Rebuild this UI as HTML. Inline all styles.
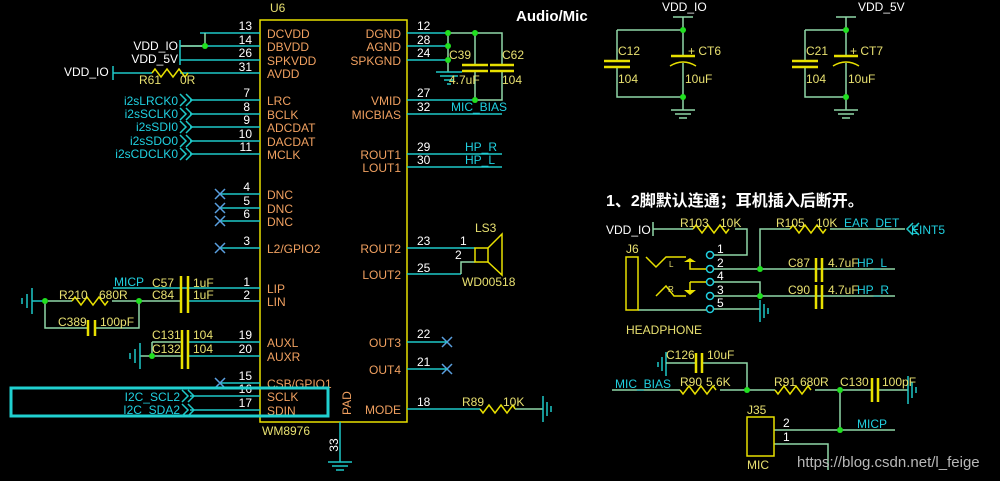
<!DOCTYPE html>
<html><head><meta charset="utf-8"><style>
html,body{margin:0;padding:0;background:#000;}
svg{display:block;}
text{font-family:"Liberation Sans","Noto Sans CJK SC",sans-serif;font-size:12px;}
.w{stroke:#1ec8c8;stroke-width:1.5;fill:none}
.g{stroke:#90d8a8;stroke-width:1.5;fill:none}
.y{stroke:#e8e000;stroke-width:1.5;fill:none}
.yw{stroke:#e8e000;stroke-width:2.5;fill:none}
.o{fill:#f0a060}
.n{fill:#ffffff}
.c{fill:#20d0e0}
.yt{fill:#e8e070}
.d{fill:#20e020}
.x{stroke:#5aa0e0;stroke-width:1.5}
</style></head><body>
<svg width="1000" height="481" viewBox="0 0 1000 481" xmlns="http://www.w3.org/2000/svg">
<rect width="1000" height="481" fill="#000"/>
<rect x="260" y="20" width="147" height="402" class="y"/>
<text x="270" y="12" class="yt">U6</text>
<text x="262" y="435" class="yt">WM8976</text>
<text x="351" y="415" class="o" transform="rotate(-90 351 415)">PAD</text>
<g class="w">
<path d="M200 33H260M180 46H260M180 60H260M180 73H260"/>
<path d="M190 100H260M190 114H260M190 127H260M190 141H260M190 154H260"/>
<path d="M220 194H260M220 208H260M220 221H260M220 248H260"/>
<path d="M113 288H260M188 301H260M188 342H260M188 356H260M220 383H260M190 396H260M190 410H260"/>
</g>
<g class="g"><path d="M205 33V46H180M48 301H72M112 301H181M45 301V328H88M95 328H139V301M152 342V356H181M140 356H152M152 342H181"/></g>
<circle cx="205" cy="46" r="3" class="d"/>
<text x="178" y="50" class="n" text-anchor="end">VDD_IO</text>
<text x="178" y="63" class="n" text-anchor="end">VDD_5V</text>
<line x1="180" y1="40" x2="180" y2="65" class="w"/>
<text x="64" y="76" class="n">VDD_IO</text>
<line x1="113" y1="66" x2="113" y2="80" class="w"/>
<path d="M113 73H152" class="w"/>
<path d="M152 73l3 -4 6 8 6 -8 6 8 6 -8 6 8 3 -4" class="y"/>
<text x="139" y="84" class="yt">R61</text><text x="180" y="84" class="yt">0R</text>
<g class="c" text-anchor="end">
<text x="178" y="105">i2sLRCK0</text><text x="178" y="118">i2sSCLK0</text><text x="178" y="131">i2sSDI0</text><text x="178" y="145">i2sSDO0</text><text x="178" y="158">i2sCDCLK0</text>
</g>
<g class="w"><path d="M180 94l6 6-6 6M186 94l6 6-6 6M180 108l6 6-6 6M186 108l6 6-6 6M180 121l6 6-6 6M186 121l6 6-6 6M180 135l6 6-6 6M186 135l6 6-6 6M180 148l6 6-6 6M186 148l6 6-6 6"/></g>
<g class="x"><path d="M215 189l10 10M225 189l-10 10M215 203l10 10M225 203l-10 10M215 216l10 10M225 216l-10 10M215 243l10 10M225 243l-10 10M215 378l10 10M225 378l-10 10M442 337l10 10M452 337l-10 10M442 364l10 10M452 364l-10 10"/></g>
<g class="n" text-anchor="end">
<text x="252" y="30">13</text><text x="252" y="44">14</text><text x="252" y="57">26</text><text x="252" y="71">31</text>
<text x="250" y="97">7</text><text x="250" y="111">8</text><text x="250" y="124">9</text><text x="252" y="138">10</text><text x="252" y="151">11</text>
<text x="250" y="191">4</text><text x="250" y="205">5</text><text x="250" y="218">6</text><text x="250" y="245">3</text>
<text x="250" y="286">1</text><text x="250" y="299">2</text><text x="252" y="339">19</text><text x="252" y="353">20</text>
<text x="252" y="380">15</text><text x="252" y="393">16</text><text x="252" y="407">17</text>
</g>
<g class="o">
<text x="267" y="38">DCVDD</text><text x="267" y="51">DBVDD</text><text x="267" y="65">SPKVDD</text><text x="267" y="78">AVDD</text>
<text x="267" y="105">LRC</text><text x="267" y="119">BCLK</text><text x="267" y="132">ADCDAT</text><text x="267" y="146">DACDAT</text><text x="267" y="159">MCLK</text>
<text x="267" y="199">DNC</text><text x="267" y="213">DNC</text><text x="267" y="226">DNC</text><text x="267" y="253">L2/GPIO2</text>
<text x="267" y="293">LIP</text><text x="267" y="306">LIN</text><text x="267" y="347">AUXL</text><text x="267" y="361">AUXR</text>
<text x="267" y="388">CSB/GPIO1</text><text x="267" y="401">SCLK</text><text x="267" y="415">SDIN</text>
</g>
<g class="o" text-anchor="end">
<text x="401" y="38">DGND</text><text x="401" y="51">AGND</text><text x="401" y="65">SPKGND</text>
<text x="401" y="105">VMID</text><text x="401" y="119">MICBIAS</text><text x="401" y="159">ROUT1</text><text x="401" y="172">LOUT1</text>
<text x="401" y="253">ROUT2</text><text x="401" y="279">LOUT2</text><text x="401" y="347">OUT3</text><text x="401" y="374">OUT4</text><text x="401" y="414">MODE</text>
</g>
<g class="n">
<text x="417" y="30">12</text><text x="417" y="44">28</text><text x="417" y="57">24</text><text x="417" y="97">27</text><text x="417" y="111">32</text>
<text x="417" y="151">29</text><text x="417" y="164">30</text><text x="417" y="245">23</text><text x="417" y="272">25</text>
<text x="417" y="338">22</text><text x="417" y="366">21</text><text x="417" y="406">18</text>
</g>
<g class="w"><path d="M407 33H448M407 46H448M407 60H448M407 100H475M407 114H502M407 154H502M407 167H502M407 248H475M407 274H461M407 342H447M407 369H447M407 409H480"/></g>
<g class="g"><path d="M448 33H502V64M502 70V100H475M448 33V72M475 33V64M475 70V100M461 274V262H475M515 409H543"/></g>
<g class="w"><path d="M436 72H462M440 76H458M444 80H454M447 84H451"/></g>
<path d="M462 65H488M462 71H488M490 65H514M490 71H514" class="yw"/>
<circle cx="448" cy="33" r="3" class="d"/><circle cx="475" cy="33" r="3" class="d"/><circle cx="448" cy="46" r="3" class="d"/><circle cx="448" cy="60" r="3" class="d"/><circle cx="475" cy="100" r="3" class="d"/>
<text x="449" y="59" class="yt">C39</text><text x="502" y="59" class="yt">C62</text><text x="449" y="84" class="yt">4.7uF</text><text x="502" y="84" class="yt">104</text>
<text x="451" y="111" class="c">MIC_BIAS</text><text x="465" y="151" class="c">HP_R</text><text x="465" y="164" class="c">HP_L</text>
<text x="516" y="21" fill="#fff" style="font-weight:bold;font-size:15px">Audio/Mic</text>
<rect x="475" y="248" width="13" height="14" class="y"/>
<path d="M488 248L502 234V275L488 262" class="y"/>
<text x="475" y="232" class="yt">LS3</text><text x="462" y="286" class="yt">WD00518</text>
<text x="460" y="245" class="n">1</text><text x="455" y="259" class="n">2</text>
<path d="M480 409l3 4 6 -8 6 8 6 -8 6 8 6 -8 2 4" class="y"/>
<text x="462" y="406" class="yt">R89</text><text x="503" y="406" class="yt">10K</text>
<path d="M543 396V422M547 402V416M551 406V412" class="w" stroke-width="2"/>
<path d="M340 422V462M328 462H352M332 466H348M336 470H344" class="w"/>
<text x="338" y="445" class="n" transform="rotate(-90 338 445)" text-anchor="middle">33</text>
<text x="114" y="286" class="c">MICP</text>
<path d="M181 276V313M188 276V313M182 330V369M188 330V369M88 320V336M95 320V336" class="yw"/>
<text x="152" y="287" class="yt">C57</text><text x="193" y="287" class="yt">1uF</text>
<text x="152" y="299" class="yt">C84</text><text x="193" y="299" class="yt">1uF</text>
<path d="M72 301l3 -4 6 8 6 -8 6 8 6 -8 6 8 3 -4" class="y"/>
<text x="59" y="299" class="yt">R210</text><text x="99" y="299" class="yt">680R</text>
<text x="58" y="326" class="yt">C389</text><text x="100" y="326" class="yt">100pF</text>
<path d="M32 288V314M27 294V308M22 298V304M32 301H45" class="w" stroke-width="2"/>
<circle cx="45" cy="301" r="3" class="d"/><circle cx="139" cy="301" r="3" class="d"/>
<text x="152" y="339" class="yt">C131</text><text x="193" y="339" class="yt">104</text>
<text x="152" y="353" class="yt">C132</text><text x="193" y="353" class="yt">104</text>
<path d="M140 343V369M135 349V363M130 353V359" class="w" stroke-width="2"/>
<circle cx="152" cy="356" r="3" class="d"/>
<rect x="11" y="388" width="317" height="28" fill="none" stroke="#20d0d0" stroke-width="3"/>
<text x="180" y="401" class="c" text-anchor="end">I2C_SCL2</text><text x="180" y="414" class="c" text-anchor="end">I2C_SDA2</text>
<g class="w"><path d="M182 390l6 6-6 6M188 390l6 6-6 6M182 404l6 6-6 6M188 404l6 6-6 6"/></g>
<g>
<text x="662" y="11" class="n">VDD_IO</text>
<path d="M673 17H693M683 17V57M683 63V110M617 30H683M617 30V61M617 67V97H683M671 110H695M675 114H691M679 118H687" class="g"/>
<path d="M604 61H630M604 67H630M671 56H695" class="yw"/><path d="M670 66Q683 58 696 66" class="y" stroke-width="2"/>
<circle cx="683" cy="30" r="3" class="d"/><circle cx="683" cy="97" r="3" class="d"/>
<text x="618" y="55" class="yt">C12</text><text x="618" y="83" class="yt">104</text><text x="688" y="55" class="yt">+ CT6</text><text x="685" y="83" class="yt">10uF</text>
<text x="858" y="11" class="n">VDD_5V</text>
<path d="M836 17H856M846 17V57M846 63V110M805 30H846M805 30V61M805 67V97H846M834 110H858M838 114H854M842 118H850" class="g"/>
<path d="M792 61H818M792 67H818M834 56H858" class="yw"/><path d="M833 66Q846 58 859 66" class="y" stroke-width="2"/>
<circle cx="846" cy="30" r="3" class="d"/><circle cx="846" cy="97" r="3" class="d"/>
<text x="806" y="55" class="yt">C21</text><text x="806" y="83" class="yt">104</text><text x="850" y="55" class="yt">+ CT7</text><text x="848" y="83" class="yt">10uF</text>
</g>
<text x="606" y="206" fill="#fff" style="font-weight:bold;font-size:16px">1、2脚默认连通；耳机插入后断开。</text>
<text x="606" y="234" class="n">VDD_IO</text>
<path d="M653 222V236M653 229H693M735 229H747V255H714M714 269H895M760 269V229H790M830 229H905M714 282H760V296M714 296H895M714 309H760M638 310H706" class="g"/>
<path d="M693 229l3 -4 6 8 6 -8 6 8 6 -8 6 8 3 -4M790 229l3 -4 6 8 6 -8 6 8 6 -8 6 8 3 -4" class="y"/>
<text x="680" y="227" class="yt">R103</text><text x="720" y="227" class="yt">10K</text>
<text x="776" y="227" class="yt">R105</text><text x="816" y="227" class="yt">10K</text><text x="844" y="227" class="c">EAR_DET</text>
<path d="M913 223l-6 6 6 6M919 223l-6 6 6 6" class="w"/><text x="911" y="234" class="c">EINT5</text>
<g fill="none" stroke="#20d0e0" stroke-width="1.5"><circle cx="710" cy="255" r="3.5"/><circle cx="710" cy="269" r="3.5"/><circle cx="710" cy="282" r="3.5"/><circle cx="710" cy="296" r="3.5"/><circle cx="710" cy="309" r="3.5"/></g>
<g class="n"><text x="717" y="253">1</text><text x="717" y="267">2</text><text x="717" y="280">4</text><text x="717" y="294">3</text><text x="717" y="307">5</text></g>
<rect x="626" y="257" width="12" height="53" class="y"/><text x="626" y="253" class="yt">J6</text>
<path d="M646 257l10 10 10 -10h20M690 260V269H706M656 296l10 -10 8 10h12M690 282V290M690 282H706" class="y"/>
<path d="M684 262h12l-6 -4zM684 290h12l-6 5z" fill="#e8e000"/>
<text x="669" y="267" class="yt" style="font-size:8px">L</text><text x="668" y="292" class="yt" style="font-size:8px">R</text>
<path d="M760 300V322M764 304V318M768 308V314" class="w" stroke-width="2"/>
<circle cx="760" cy="269" r="3" class="d"/><circle cx="760" cy="296" r="3" class="d"/>
<path d="M816 258V282M822 258V282M816 285V309M822 285V309" class="yw"/>
<text x="788" y="267" class="yt">C87</text><text x="828" y="267" class="yt">4.7uF</text><text x="857" y="267" class="c">HP_L</text>
<text x="788" y="294" class="yt">C90</text><text x="828" y="294" class="yt">4.7uF</text><text x="857" y="294" class="c">HP_R</text>
<text x="626" y="334" class="yt">HEADPHONE</text>
<path d="M666 352V376M662 357V371M658 362V367" class="w" stroke-width="2"/>
<path d="M666 363H696M702 363H747V390M612 390H680M720 390H775M815 390H872M878 390H908M840 390V430M774 430H895M774 444H828V470" class="g"/>
<path d="M696 353V373M702 353V373M872 378V402M878 378V402" class="yw"/>
<path d="M680 390l3 4 6 -8 6 8 6 -8 6 8 6 -8 3 4M775 390l3 4 6 -8 6 8 6 -8 6 8 6 -8 3 4" class="y"/>
<path d="M908 376V404M912 382V398M916 387V393" class="w" stroke-width="2"/>
<circle cx="747" cy="390" r="3" class="d"/><circle cx="840" cy="390" r="3" class="d"/><circle cx="840" cy="430" r="3" class="d"/>
<g class="yt" style="font-size:9px"><text x="666" y="359">C126</text><text x="707" y="359">10uF</text><text x="680" y="386">R90</text><text x="706" y="386">5.6K</text><text x="774" y="386">R91</text><text x="800" y="386">680R</text><text x="840" y="386">C130</text><text x="882" y="386">100pF</text></g>
<text x="615" y="388" class="c">MIC_BIAS</text>
<rect x="747" y="417" width="27" height="39" class="y"/>
<text x="747" y="414" class="yt">J35</text><text x="747" y="469" class="yt">MIC</text>
<text x="783" y="427" class="n">2</text><text x="783" y="441" class="n">1</text>
<text x="857" y="428" class="c">MICP</text>
<text x="797" y="467" fill="#b8b8b8" style="font-size:15px">https://blog.csdn.net/l_feige</text>
</svg>
</body></html>
